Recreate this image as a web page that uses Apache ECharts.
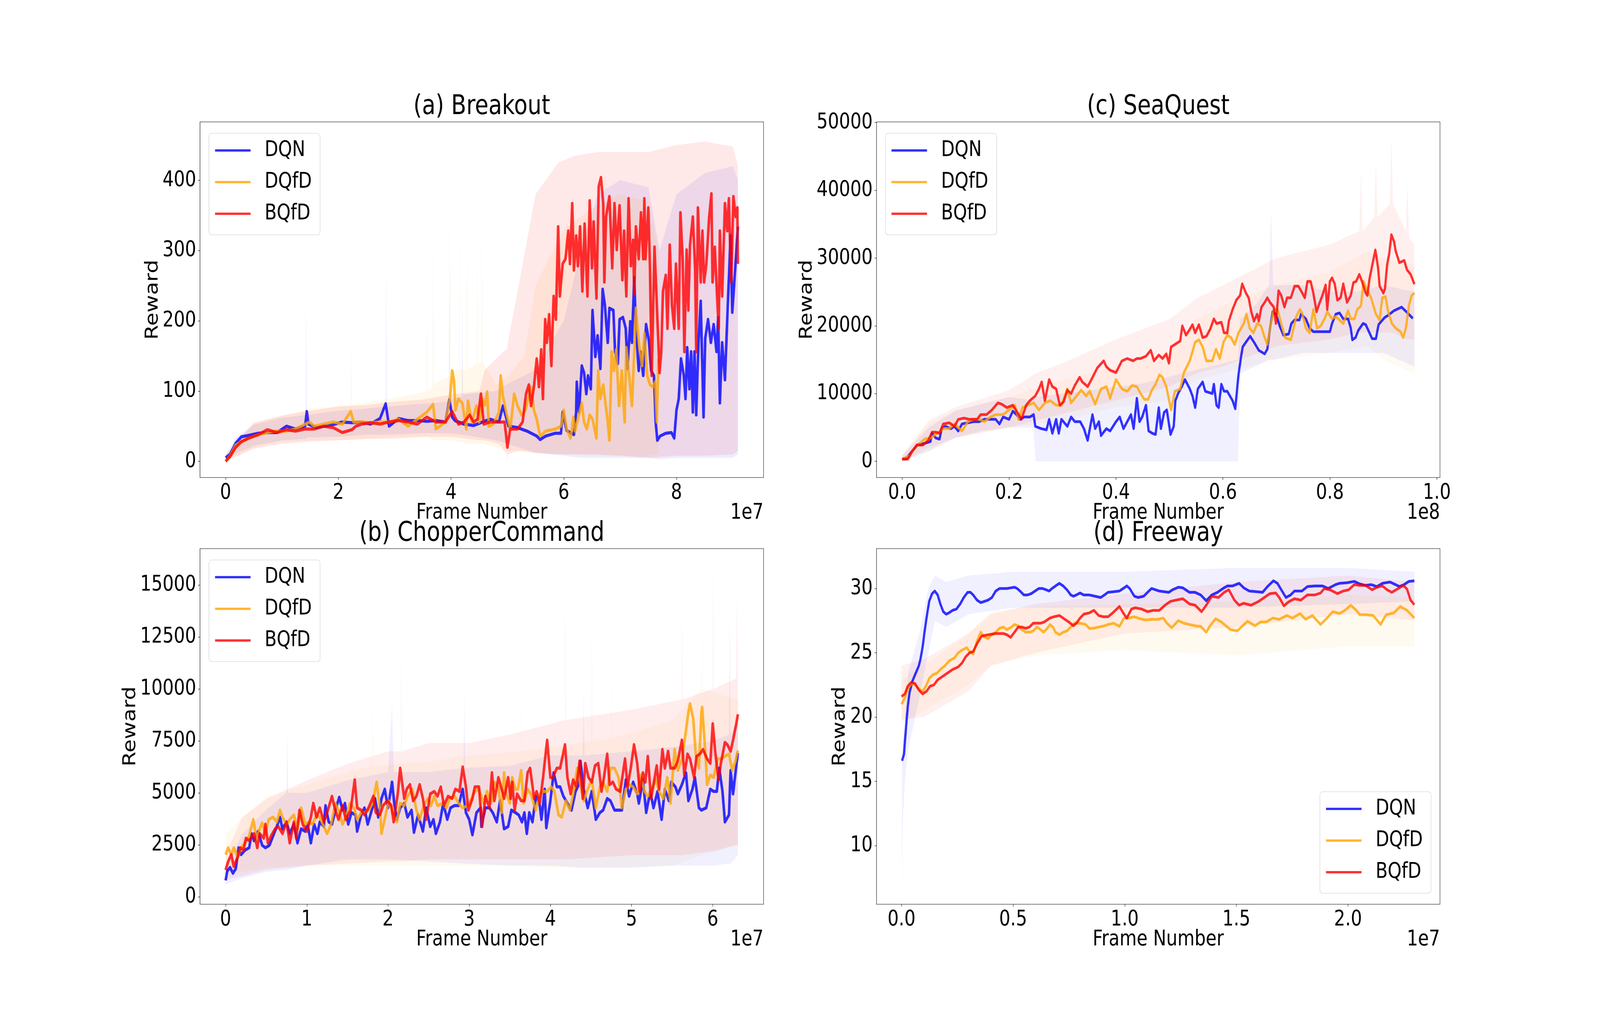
<!DOCTYPE html>
<html>
<head>
<meta charset="utf-8">
<script src="https://cdn.jsdelivr.net/npm/echarts@6.0.0/dist/echarts.min.js"></script>
<style>
  html, body { margin: 0; padding: 0; background: #fff; overflow: hidden; }
  #chart { width: 5000px; height: 2600px; transform-origin: 0 0; }
</style>
</head>
<body>
<div id="chart"></div>
<script>
// ---------- tick labels ----------
const brkXTicks = [0, 2, 4, 6, 8];
const brkYTicks = [0, 100, 200, 300, 400];
const chXTicks = [0, 1, 2, 3, 4, 5, 6];
const chYTicks = [0, 2500, 5000, 7500, 10000, 12500, 15000];
const sqXTicks = [0, 0.2, 0.4, 0.6, 0.8, 1.0];
const sqYTicks = [0, 10000, 20000, 30000, 40000, 50000];
const fwXTicks = [0, 0.5, 1.0, 1.5, 2.0];
const fwYTicks = [10, 15, 20, 25, 30];

// ---------- (a) Breakout, x in 1e7 frames ----------
const brkDqn = [[0,5],[0.08,10],[0.18,26],[0.28,35],[0.41,37],[0.58,40],[0.74,41],[0.91,41],[1.08,50],[1.24,46],[1.41,50],[1.44,71],[1.47,53],[1.6,48],[1.74,50],[1.94,53],[2.07,56],[2.24,55],[2.4,56],[2.57,53],[2.74,61],[2.84,82],[2.9,50],[3.07,61],[3.24,58],[3.4,58],[3.57,57],[3.73,58],[3.9,56],[3.97,88],[4.02,63],[4.07,58],[4.23,53],[4.4,51],[4.56,56],[4.69,60],[4.85,56],[4.92,79],[5.02,50],[5.18,48],[5.35,43],[5.52,36],[5.58,31],[5.68,36],[5.85,40],[5.95,40],[5.98,70],[6.05,44],[6.18,38],[6.22,70],[6.23,113],[6.27,70],[6.32,136],[6.36,126],[6.4,96],[6.43,122],[6.48,103],[6.51,215],[6.53,189],[6.56,149],[6.6,179],[6.65,132],[6.69,245],[6.73,222],[6.78,169],[6.81,218],[6.88,215],[6.91,156],[6.96,139],[6.99,202],[7.05,205],[7.1,189],[7.13,132],[7.18,199],[7.21,169],[7.25,262],[7.28,189],[7.33,129],[7.36,156],[7.41,122],[7.46,195],[7.51,172],[7.55,129],[7.6,122],[7.63,56],[7.66,30],[7.71,36],[7.81,40],[7.91,41],[7.96,33],[8.0,73],[8.04,89],[8.08,146],[8.13,122],[8.16,89],[8.19,162],[8.23,103],[8.26,156],[8.29,70],[8.32,156],[8.35,66],[8.39,169],[8.43,228],[8.48,63],[8.51,175],[8.56,202],[8.61,169],[8.66,195],[8.71,156],[8.74,205],[8.77,83],[8.81,169],[8.86,116],[8.91,222],[8.96,321],[8.99,212],[9.04,272],[9.09,334]];
const brkDqfd = [[0,0],[0.08,8],[0.18,23],[0.28,28],[0.41,33],[0.58,38],[0.74,41],[0.91,43],[1.08,43],[1.24,46],[1.41,53],[1.49,56],[1.57,50],[1.74,53],[1.91,56],[2.07,53],[2.22,71],[2.27,56],[2.41,56],[2.57,55],[2.74,56],[2.9,56],[3.07,60],[3.24,50],[3.4,60],[3.57,70],[3.68,81],[3.73,46],[3.9,56],[3.98,89],[4.02,129],[4.05,116],[4.08,73],[4.13,89],[4.2,83],[4.27,46],[4.3,86],[4.37,56],[4.45,79],[4.5,56],[4.56,89],[4.6,80],[4.64,99],[4.67,50],[4.75,53],[4.85,70],[4.88,122],[4.92,93],[4.99,66],[5.05,46],[5.12,96],[5.18,79],[5.25,66],[5.32,73],[5.42,106],[5.47,73],[5.52,60],[5.58,36],[5.68,43],[5.85,46],[5.95,50],[6.0,73],[6.05,46],[6.12,33],[6.17,63],[6.2,43],[6.25,60],[6.32,83],[6.36,56],[6.41,46],[6.46,66],[6.51,60],[6.58,33],[6.61,129],[6.65,89],[6.7,109],[6.74,83],[6.78,56],[6.81,30],[6.85,156],[6.89,129],[6.93,159],[6.98,79],[7.03,129],[7.08,56],[7.11,162],[7.16,122],[7.21,79],[7.25,156],[7.28,218],[7.31,189],[7.35,156],[7.39,136],[7.43,182],[7.48,122],[7.53,109],[7.58,106],[7.62,113],[7.65,56],[7.68,146]];
const brkBqfd = [[0,0],[0.08,7],[0.18,20],[0.28,28],[0.41,33],[0.58,38],[0.74,45],[0.91,41],[1.08,45],[1.24,43],[1.41,46],[1.57,46],[1.74,50],[1.91,48],[2.07,41],[2.24,45],[2.31,50],[2.41,53],[2.57,55],[2.74,53],[2.9,56],[3.07,58],[3.24,56],[3.4,53],[3.57,63],[3.73,56],[3.9,56],[4.02,71],[4.13,53],[4.23,56],[4.33,66],[4.4,56],[4.47,60],[4.53,96],[4.58,53],[4.69,56],[4.85,56],[4.95,56],[5.0,20],[5.05,46],[5.18,46],[5.27,56],[5.33,96],[5.38,109],[5.42,79],[5.47,106],[5.52,146],[5.56,106],[5.6,159],[5.63,89],[5.67,202],[5.7,169],[5.74,209],[5.78,136],[5.82,235],[5.86,202],[5.9,334],[5.93,235],[5.98,281],[6.03,288],[6.08,328],[6.11,281],[6.15,367],[6.18,272],[6.22,321],[6.25,278],[6.29,334],[6.33,242],[6.37,338],[6.42,235],[6.46,371],[6.5,275],[6.53,341],[6.58,232],[6.62,391],[6.66,404],[6.7,367],[6.72,255],[6.75,348],[6.81,377],[6.86,275],[6.9,367],[6.94,301],[6.99,364],[7.04,258],[7.07,328],[7.11,235],[7.15,374],[7.19,278],[7.23,315],[7.25,238],[7.28,334],[7.33,288],[7.37,354],[7.41,288],[7.43,374],[7.45,288],[7.5,361],[7.53,275],[7.56,122],[7.61,305],[7.66,205],[7.7,126],[7.73,156],[7.76,242],[7.81,265],[7.84,189],[7.88,308],[7.92,222],[7.96,189],[7.99,281],[8.04,189],[8.07,354],[8.11,288],[8.14,156],[8.18,301],[8.21,215],[8.24,308],[8.29,348],[8.33,275],[8.35,156],[8.38,361],[8.43,255],[8.46,328],[8.49,255],[8.53,281],[8.58,348],[8.62,381],[8.64,255],[8.68,305],[8.72,235],[8.75,189],[8.77,328],[8.81,235],[8.86,367],[8.9,328],[8.93,374],[8.97,255],[9.01,377],[9.05,348],[9.08,361],[9.09,281]];
// raw-reward spread: [x, low, high]
const brkDqnBand = [[0,0,10],[0.2,12,35],[0.5,22,52],[1.0,30,62],[1.42,32,66],[1.43,32,225],[1.44,34,66],[2.0,35,72],[2.5,38,75],[2.84,38,78],[2.85,38,288],[2.86,38,78],[3.5,40,82],[3.96,40,85],[3.97,40,280],[3.98,40,88],[4.19,38,92],[4.2,38,240],[4.21,38,95],[4.8,30,100],[5.0,25,110],[5.5,12,130],[6.0,8,200],[6.3,5,300],[6.6,5,380],[7.0,5,400],[7.5,5,390],[7.7,3,300],[8.0,5,380],[8.5,5,410],[9.0,5,420],[9.09,10,400]];
const brkDqfdBand = [[0,0,10],[0.5,20,55],[1.0,28,65],[1.5,30,75],[2.22,30,80],[2.23,30,180],[2.24,30,80],[3.0,35,90],[3.56,35,100],[3.57,35,218],[3.58,35,100],[3.67,30,105],[3.68,30,316],[3.69,30,110],[3.97,30,120],[3.98,30,384],[3.99,30,130],[4.14,28,130],[4.15,28,354],[4.16,28,130],[4.27,25,130],[4.28,25,331],[4.29,25,130],[4.46,25,140],[4.47,25,341],[4.48,25,140],[4.54,25,140],[4.55,25,348],[4.56,25,140],[4.8,20,110],[5.0,15,120],[5.3,15,150],[5.5,12,250],[6.0,10,330],[6.5,8,360],[7.0,8,380],[7.5,8,370],[7.68,10,300]];
const brkBqfdBand = [[0,0,8],[0.5,18,55],[1.0,25,65],[1.5,28,72],[2.0,30,78],[2.5,32,80],[3.0,32,85],[3.5,35,88],[4.0,35,95],[4.5,30,100],[4.6,30,130],[4.85,25,150],[4.99,10,160],[5.0,0,160],[5.01,10,170],[5.2,15,250],[5.5,12,380],[5.9,10,425],[6.2,10,435],[6.6,10,440],[7.0,8,440],[7.5,5,440],[8.0,8,450],[8.5,8,455],[9.0,10,448],[9.09,15,420]];

// ---------- (b) ChopperCommand, x in 1e7 frames ----------
const chDqn = [[0,790],[0.02,1240],[0.055,1410],[0.09,1130],[0.125,1350],[0.16,2360],[0.19,2030],[0.24,2250],[0.29,2360],[0.32,3040],[0.35,2700],[0.4,3150],[0.45,2480],[0.49,2360],[0.54,2480],[0.585,2930],[0.63,3380],[0.67,3830],[0.7,3270],[0.75,3600],[0.79,3040],[0.84,3490],[0.885,2590],[0.93,3270],[0.98,3150],[1.01,3490],[1.05,2590],[1.09,3490],[1.13,3040],[1.16,3600],[1.21,3380],[1.23,4390],[1.27,3600],[1.31,3490],[1.36,4280],[1.4,4790],[1.44,4170],[1.47,4500],[1.51,3490],[1.55,4050],[1.6,3940],[1.62,3150],[1.67,3940],[1.71,4280],[1.75,3490],[1.8,4170],[1.84,4730],[1.88,3830],[1.92,4730],[1.96,5180],[2.0,4280],[2.05,5520],[2.08,4390],[2.11,3720],[2.15,4280],[2.2,4500],[2.24,3830],[2.29,4170],[2.32,3100],[2.37,3940],[2.43,3150],[2.47,4280],[2.52,3380],[2.56,3720],[2.59,3040],[2.64,3600],[2.68,4500],[2.73,3720],[2.77,4280],[2.82,4390],[2.87,4390],[2.92,5180],[2.96,4050],[3.0,3720],[3.04,2980],[3.09,4050],[3.14,4280],[3.15,3380],[3.2,4280],[3.25,4280],[3.29,4050],[3.34,3600],[3.38,4620],[3.43,3270],[3.48,3380],[3.52,4170],[3.57,4050],[3.61,3940],[3.65,3600],[3.68,4050],[3.71,3040],[3.74,4050],[3.78,3600],[3.82,4840],[3.87,4390],[3.89,3720],[3.93,5180],[3.95,3320],[4.0,4620],[4.04,5970],[4.08,5290],[4.12,5290],[4.16,4840],[4.21,4500],[4.26,4170],[4.31,5070],[4.35,5400],[4.37,6530],[4.41,5180],[4.46,4280],[4.51,5070],[4.56,3720],[4.61,4050],[4.65,4170],[4.7,4730],[4.74,4620],[4.79,4170],[4.84,4170],[4.88,4170],[4.93,5630],[4.97,4840],[5.02,5520],[5.07,4950],[5.09,4500],[5.14,5630],[5.18,4050],[5.23,5070],[5.27,4280],[5.32,5070],[5.37,3720],[5.41,5180],[5.46,4620],[5.49,5520],[5.54,5290],[5.57,4950],[5.62,5400],[5.67,5970],[5.7,4620],[5.75,5180],[5.78,5740],[5.83,4280],[5.86,4170],[5.92,4280],[5.97,5180],[6.01,5070],[6.05,5070],[6.08,6190],[6.12,5070],[6.15,3600],[6.2,3940],[6.22,6080],[6.25,4950],[6.28,5970],[6.31,6920]];
const chDqfd = [[0,2030],[0.03,2360],[0.07,2030],[0.1,2360],[0.15,1910],[0.19,2360],[0.24,2590],[0.29,2930],[0.34,3720],[0.38,2820],[0.42,3270],[0.45,3550],[0.49,3040],[0.53,3720],[0.585,3830],[0.63,3600],[0.67,4170],[0.7,3830],[0.75,3490],[0.79,3720],[0.84,3940],[0.885,3270],[0.93,4280],[0.98,3490],[1.02,3600],[1.07,3490],[1.12,3940],[1.16,3830],[1.21,3380],[1.25,3040],[1.3,3490],[1.35,4500],[1.39,4170],[1.44,3490],[1.48,3830],[1.53,4500],[1.58,4280],[1.62,3720],[1.67,4050],[1.71,4050],[1.76,4170],[1.81,4500],[1.86,5520],[1.9,4280],[1.92,3040],[1.97,3940],[2.01,4620],[2.06,4050],[2.11,3600],[2.15,4500],[2.2,4390],[2.24,4840],[2.3,5180],[2.35,4170],[2.39,3720],[2.44,4390],[2.49,4730],[2.53,4390],[2.57,4840],[2.61,4390],[2.67,4500],[2.72,4280],[2.76,4730],[2.82,4840],[2.87,4500],[2.92,4280],[2.98,4390],[3.03,4730],[3.07,5070],[3.12,5180],[3.18,4500],[3.22,5070],[3.27,4500],[3.31,5520],[3.36,5290],[3.4,4050],[3.43,5970],[3.46,4950],[3.5,4500],[3.53,5740],[3.57,5180],[3.6,5180],[3.64,6080],[3.67,4500],[3.72,5180],[3.76,4950],[3.82,4170],[3.87,4950],[3.91,5070],[3.96,5070],[4.01,5290],[4.05,5070],[4.1,3940],[4.14,3830],[4.19,4620],[4.24,4170],[4.28,4950],[4.33,6190],[4.37,5400],[4.41,4620],[4.46,5180],[4.51,5630],[4.56,4280],[4.61,5290],[4.65,5520],[4.7,5070],[4.74,6190],[4.79,6190],[4.84,5740],[4.88,4280],[4.93,5180],[4.97,5400],[5.02,5290],[5.07,4950],[5.11,5860],[5.16,5070],[5.2,4840],[5.25,5180],[5.3,5630],[5.34,5070],[5.39,4730],[5.44,5740],[5.48,4500],[5.53,7090],[5.57,6080],[5.62,6640],[5.67,7990],[5.7,8900],[5.72,9290],[5.76,8560],[5.79,6870],[5.83,6190],[5.86,8900],[5.87,9120],[5.91,6870],[5.93,5400],[5.97,5860],[6.01,5740],[6.06,6640],[6.1,6640],[6.15,6760],[6.2,6870],[6.24,6080],[6.28,6530],[6.31,7040]];
const chBqfd = [[0,1290],[0.03,1690],[0.07,2030],[0.1,1460],[0.15,1910],[0.18,2360],[0.22,2250],[0.25,2820],[0.29,2700],[0.33,2930],[0.35,3040],[0.39,2360],[0.42,3040],[0.47,2820],[0.49,3490],[0.52,2590],[0.56,2930],[0.61,3270],[0.65,3380],[0.7,3040],[0.75,3600],[0.79,2590],[0.84,3600],[0.87,2820],[0.91,4170],[0.95,3490],[1.0,3150],[1.05,3830],[1.08,4500],[1.12,3830],[1.16,4280],[1.21,3600],[1.25,4050],[1.31,4840],[1.35,4170],[1.39,3720],[1.44,4390],[1.48,3720],[1.54,4170],[1.59,5630],[1.62,4280],[1.67,4170],[1.71,3940],[1.76,4280],[1.82,4840],[1.85,4050],[1.9,3940],[1.94,4390],[1.99,4620],[2.04,4390],[2.07,3600],[2.12,4950],[2.15,6190],[2.2,4730],[2.23,5180],[2.27,5400],[2.31,4620],[2.35,4840],[2.39,5400],[2.43,4730],[2.47,3720],[2.52,4950],[2.57,5070],[2.61,4840],[2.65,5290],[2.69,4390],[2.74,4840],[2.79,4730],[2.83,5180],[2.88,5070],[2.92,6250],[2.96,5290],[2.99,4170],[3.04,4730],[3.07,5290],[3.12,5290],[3.16,3380],[3.2,4840],[3.25,4280],[3.28,5970],[3.31,4620],[3.36,5740],[3.4,5180],[3.43,4730],[3.48,5740],[3.51,4730],[3.53,5520],[3.56,4170],[3.59,4950],[3.64,4620],[3.68,4620],[3.72,5970],[3.75,6190],[3.8,4730],[3.83,5070],[3.87,4500],[3.91,5740],[3.96,7540],[4.0,5740],[4.03,5740],[4.08,6190],[4.12,6190],[4.18,7320],[4.21,5740],[4.25,4950],[4.28,5630],[4.32,5290],[4.36,6530],[4.4,4730],[4.43,6420],[4.47,5740],[4.51,5520],[4.55,6310],[4.59,6420],[4.63,5070],[4.66,5740],[4.7,6870],[4.73,5400],[4.77,5520],[4.81,5180],[4.86,5070],[4.92,6640],[4.95,5290],[4.99,6190],[5.03,7320],[5.07,6420],[5.1,5070],[5.14,5970],[5.17,5520],[5.2,6760],[5.24,4730],[5.27,5400],[5.31,6310],[5.34,5180],[5.38,7090],[5.41,6190],[5.45,7000],[5.48,6190],[5.53,6190],[5.57,6530],[5.62,7540],[5.65,5860],[5.69,6870],[5.72,6640],[5.77,5740],[5.8,6760],[5.84,6870],[5.88,7090],[5.93,6640],[5.97,6420],[6.0,8330],[6.03,7000],[6.07,5630],[6.1,6420],[6.15,7430],[6.18,7320],[6.22,7000],[6.25,7540],[6.29,8330],[6.31,8780]];
const chDqnBand = [[0,600,1400],[0.2,900,3000],[0.5,1200,4200],[0.75,1300,5000],[0.76,1300,7940],[0.77,1300,5000],[1.0,1500,5000],[1.5,1800,5600],[2.0,1800,6000],[2.05,1800,9290],[2.07,1800,6000],[2.5,1700,6000],[2.93,1600,6200],[2.94,1600,9800],[2.95,1600,6200],[3.5,1500,6300],[4.0,1500,6800],[4.4,1400,6800],[4.41,1400,10000],[4.42,1400,6800],[5.0,1400,7000],[5.5,1500,7200],[6.0,1500,7500],[6.2,1600,7800],[6.21,1600,13500],[6.22,1600,7800],[6.31,2000,8500]];
const chDqfdBand = [[0,1200,3000],[0.2,1200,3800],[0.5,1400,4800],[1.0,1500,5400],[1.5,1500,6000],[1.8,1500,6300],[1.81,1500,9350],[1.82,1500,6300],[2.5,1500,6500],[3.0,1500,6800],[3.64,1500,7000],[3.645,1500,11540],[3.65,1500,7000],[4.0,1400,7200],[4.5,1400,7500],[4.51,1400,13620],[4.52,1400,7500],[4.74,1400,7600],[4.745,1400,12550],[4.75,1400,7600],[5.5,1500,8500],[5.86,2000,10000],[5.865,2000,14130],[5.87,2000,10000],[6.31,2500,9500]];
const chBqfdBand = [[0,800,2000],[0.2,1000,3800],[0.5,1300,4700],[1.0,1500,5600],[1.5,1600,6400],[2.0,1700,7000],[2.16,1700,7000],[2.165,1700,12180],[2.17,1700,7000],[2.5,1800,7400],[3.0,1800,7400],[3.5,1800,7800],[4.18,1800,8500],[4.185,1800,14800],[4.19,1800,8500],[5.0,2000,9000],[5.62,2000,9500],[5.625,2000,14130],[5.63,2000,9500],[6.0,2200,10000],[6.005,2200,15970],[6.01,2200,10000],[6.29,2500,10500],[6.295,2500,14400],[6.31,2500,10500]];

// ---------- (c) SeaQuest, x in 1e8 frames ----------
const sqDqn = [[0,345],[0.007,345],[0.014,1035],[0.021,1725],[0.028,2415],[0.039,2590],[0.046,2760],[0.053,2930],[0.056,4140],[0.063,3450],[0.07,3280],[0.074,4830],[0.081,5170],[0.091,4830],[0.098,5170],[0.105,4480],[0.112,5520],[0.123,5690],[0.133,5860],[0.144,5860],[0.154,6200],[0.165,6200],[0.175,6200],[0.182,5520],[0.189,6550],[0.2,6200],[0.207,7410],[0.214,6900],[0.221,6200],[0.228,6550],[0.239,6550],[0.246,6900],[0.249,5170],[0.26,4830],[0.27,4650],[0.275,6200],[0.281,4140],[0.288,6200],[0.293,4140],[0.298,6200],[0.309,5170],[0.316,6550],[0.323,5860],[0.333,5860],[0.34,4830],[0.347,3100],[0.356,6900],[0.361,4830],[0.368,5860],[0.372,3800],[0.382,4830],[0.389,4480],[0.4,5860],[0.407,6550],[0.414,4830],[0.421,5860],[0.428,6900],[0.433,4830],[0.439,9300],[0.444,5860],[0.449,6550],[0.456,8280],[0.461,4480],[0.468,4140],[0.474,3970],[0.48,7930],[0.484,4830],[0.49,7240],[0.495,7590],[0.502,3970],[0.508,5170],[0.511,8960],[0.516,10000],[0.523,11030],[0.529,12070],[0.538,10690],[0.543,9650],[0.548,7930],[0.553,10690],[0.562,11720],[0.567,10340],[0.58,10000],[0.583,11380],[0.588,8280],[0.592,7930],[0.597,11380],[0.602,10340],[0.608,10340],[0.618,8960],[0.623,7760],[0.629,12760],[0.634,15520],[0.637,16900],[0.646,17930],[0.651,18450],[0.658,17590],[0.667,16380],[0.678,15860],[0.683,16550],[0.688,19650],[0.693,22070],[0.699,21720],[0.706,20000],[0.713,18620],[0.723,18790],[0.728,20340],[0.734,20860],[0.743,20860],[0.746,21720],[0.755,21030],[0.762,19650],[0.769,19140],[0.783,19140],[0.8,19140],[0.804,20340],[0.811,21720],[0.818,21900],[0.825,21030],[0.834,21030],[0.839,19650],[0.842,17930],[0.848,18270],[0.853,19310],[0.862,20340],[0.867,20170],[0.874,18960],[0.879,18100],[0.886,18100],[0.891,20170],[0.902,21200],[0.909,21550],[0.92,22240],[0.934,22760],[0.943,22070],[0.955,21100]];
const sqDqfd = [[0,300],[0.014,860],[0.021,1725],[0.032,2590],[0.042,3280],[0.053,3450],[0.063,3970],[0.077,4830],[0.088,4830],[0.098,5520],[0.112,4480],[0.123,5860],[0.133,6200],[0.144,6200],[0.154,5860],[0.165,6550],[0.175,6900],[0.189,6900],[0.2,7590],[0.211,8280],[0.218,6200],[0.225,7930],[0.235,8280],[0.246,8620],[0.256,7590],[0.267,8620],[0.277,8960],[0.288,8280],[0.298,8280],[0.309,10690],[0.316,8620],[0.326,9650],[0.335,10520],[0.344,9650],[0.351,10340],[0.361,8450],[0.372,10690],[0.382,11030],[0.389,9310],[0.4,12070],[0.411,10690],[0.421,10340],[0.43,11200],[0.439,11030],[0.446,10000],[0.453,9140],[0.46,9140],[0.467,10500],[0.474,11380],[0.481,12760],[0.487,12400],[0.494,11030],[0.503,7590],[0.51,10340],[0.52,10690],[0.527,13100],[0.538,14830],[0.548,17590],[0.555,17930],[0.562,16900],[0.569,14830],[0.58,14830],[0.587,16550],[0.594,15170],[0.601,17590],[0.608,18620],[0.615,18270],[0.622,17240],[0.629,18960],[0.639,20340],[0.644,21720],[0.65,19650],[0.657,18960],[0.664,20340],[0.671,20000],[0.678,18270],[0.683,17240],[0.688,19650],[0.695,22410],[0.702,22410],[0.709,20340],[0.716,18270],[0.727,17930],[0.737,21380],[0.744,22410],[0.748,21900],[0.755,19650],[0.762,18960],[0.769,22410],[0.776,19650],[0.783,20000],[0.79,21030],[0.795,22070],[0.804,21030],[0.811,21380],[0.818,20860],[0.825,20340],[0.834,22240],[0.839,21030],[0.846,21030],[0.851,22410],[0.858,22930],[0.863,26550],[0.87,25170],[0.877,24140],[0.886,21720],[0.893,20860],[0.898,24140],[0.904,24310],[0.909,22070],[0.916,20340],[0.923,19650],[0.932,19140],[0.937,18270],[0.942,19650],[0.948,23100],[0.953,24480],[0.958,24830]];
const sqBqfd = [[0,345],[0.011,345],[0.018,1380],[0.028,2415],[0.039,2415],[0.049,3100],[0.056,4310],[0.063,4310],[0.07,4140],[0.077,5520],[0.088,5690],[0.098,5170],[0.105,6200],[0.116,6380],[0.126,6200],[0.14,6200],[0.147,6900],[0.158,6900],[0.168,7590],[0.179,8620],[0.186,8450],[0.196,7930],[0.207,8280],[0.218,6900],[0.223,6200],[0.232,8280],[0.239,8960],[0.249,9650],[0.256,10690],[0.261,11720],[0.267,8960],[0.275,12070],[0.281,11030],[0.288,10690],[0.295,8280],[0.302,8790],[0.309,10520],[0.316,10000],[0.323,11200],[0.332,12410],[0.337,11720],[0.347,11030],[0.354,12070],[0.365,13790],[0.377,14830],[0.382,13960],[0.389,13450],[0.4,13100],[0.411,14830],[0.421,15170],[0.432,14830],[0.439,15170],[0.446,15170],[0.456,15520],[0.465,16380],[0.471,14830],[0.48,15690],[0.487,15170],[0.494,15860],[0.499,14480],[0.503,16900],[0.51,17240],[0.52,17760],[0.524,20000],[0.531,18620],[0.538,19480],[0.543,20170],[0.548,18960],[0.555,20170],[0.562,18270],[0.569,18450],[0.576,19480],[0.583,21030],[0.588,20340],[0.597,20520],[0.602,18960],[0.608,18960],[0.611,20690],[0.618,22410],[0.625,23790],[0.632,24480],[0.636,26200],[0.643,24830],[0.648,24140],[0.653,22070],[0.658,20690],[0.664,21720],[0.667,20690],[0.672,22760],[0.678,23450],[0.683,24140],[0.688,23450],[0.695,22760],[0.699,20340],[0.704,25170],[0.709,24480],[0.715,22760],[0.72,24140],[0.727,24140],[0.734,25860],[0.741,25860],[0.746,25170],[0.753,24140],[0.758,26550],[0.764,26550],[0.769,24830],[0.775,22070],[0.781,23450],[0.786,24480],[0.792,26030],[0.795,22410],[0.8,26550],[0.804,27070],[0.809,26200],[0.814,23790],[0.82,24140],[0.825,26200],[0.832,23450],[0.839,24480],[0.844,26380],[0.849,26550],[0.855,27590],[0.86,26550],[0.867,24830],[0.87,24480],[0.874,26900],[0.881,29650],[0.885,31200],[0.89,28620],[0.893,25860],[0.9,24830],[0.903,25500],[0.907,29000],[0.911,30690],[0.915,33450],[0.92,32410],[0.923,31030],[0.93,29310],[0.939,29650],[0.944,28280],[0.951,27590],[0.958,26140]];
const sqDqnBand = [[0,0,800],[0.05,1500,5000],[0.1,3500,7500],[0.15,4500,8500],[0.2,5000,9500],[0.245,5000,9000],[0.25,0,9500],[0.35,0,10500],[0.45,0,11500],[0.5,0,12500],[0.55,0,13500],[0.628,0,15000],[0.632,13000,21000],[0.66,14000,23000],[0.686,15000,26000],[0.69,15000,36700],[0.694,15000,26000],[0.75,16000,26000],[0.8,16000,25000],[0.85,16000,25000],[0.9,16000,26000],[0.958,14000,25000]];
const sqDqfdBand = [[0,0,800],[0.05,1500,5500],[0.1,3500,7500],[0.2,5000,9500],[0.3,6000,12000],[0.4,8000,14000],[0.5,9000,16000],[0.55,12000,21000],[0.6,13000,23000],[0.7,15000,26000],[0.8,16000,28000],[0.87,17000,31000],[0.9,15000,30000],[0.958,13000,29000]];
const sqBqfdBand = [[0,0,1000],[0.05,2000,6000],[0.1,3500,8000],[0.2,5000,10500],[0.25,6000,13000],[0.3,7000,14500],[0.4,9000,18000],[0.5,11000,21000],[0.55,13000,24000],[0.6,14000,26000],[0.7,17000,30000],[0.8,18000,32000],[0.855,19000,34000],[0.858,19000,42750],[0.861,19000,34000],[0.883,19000,36000],[0.886,19000,44300],[0.889,19000,36000],[0.912,19000,38000],[0.915,19000,47600],[0.918,19000,38000],[0.942,18000,34000],[0.945,18000,41000],[0.948,18000,33000],[0.958,18000,32000]];

// ---------- (d) Freeway, x in 1e7 frames ----------
const fwDqn = [[0.0025,16.6],[0.011,17.1],[0.019,18.9],[0.028,20.8],[0.036,21.9],[0.049,22.8],[0.061,23.3],[0.078,24.0],[0.086,24.6],[0.095,25.5],[0.103,26.6],[0.112,27.7],[0.124,29.0],[0.137,29.6],[0.149,29.8],[0.162,29.5],[0.174,28.8],[0.187,28.2],[0.2,28.0],[0.212,28.1],[0.229,28.3],[0.246,28.4],[0.263,28.8],[0.279,29.3],[0.296,29.7],[0.309,29.7],[0.321,29.5],[0.338,29.1],[0.355,28.9],[0.372,29.0],[0.388,29.1],[0.405,29.3],[0.422,29.8],[0.439,30.0],[0.456,30.0],[0.472,30.0],[0.489,30.05],[0.506,30.1],[0.518,30.0],[0.531,29.8],[0.548,29.5],[0.565,29.5],[0.581,29.6],[0.598,29.8],[0.615,30.0],[0.632,30.0],[0.648,29.9],[0.661,29.8],[0.674,30.0],[0.69,30.2],[0.707,30.4],[0.724,30.2],[0.741,29.9],[0.758,29.5],[0.77,29.4],[0.783,29.5],[0.8,29.65],[0.816,29.5],[0.841,29.5],[0.867,29.4],[0.892,29.3],[0.909,29.5],[0.925,29.7],[0.95,29.75],[0.976,29.8],[0.997,30.05],[1.009,30.2],[1.022,30.0],[1.043,29.4],[1.06,29.3],[1.085,29.4],[1.102,29.7],[1.12,30.0],[1.155,29.8],[1.197,29.7],[1.214,29.9],[1.24,30.1],[1.26,30.05],[1.29,29.7],[1.315,29.7],[1.34,29.5],[1.365,29.05],[1.39,29.5],[1.415,29.7],[1.44,30.0],[1.46,30.2],[1.483,30.2],[1.512,30.4],[1.533,30.05],[1.558,29.8],[1.592,29.75],[1.617,29.7],[1.642,30.2],[1.666,30.6],[1.684,30.4],[1.701,29.9],[1.722,29.3],[1.743,29.5],[1.76,29.8],[1.793,29.8],[1.818,30.15],[1.852,30.2],[1.886,30.2],[1.911,30.0],[1.944,30.3],[1.961,30.4],[1.995,30.45],[2.028,30.55],[2.053,30.35],[2.079,30.24],[2.104,30.3],[2.129,30.15],[2.154,30.4],[2.188,30.5],[2.213,30.3],[2.23,30.15],[2.251,30.3],[2.272,30.55],[2.297,30.6]];
const fwDqfd = [[0,21.0],[0.015,21.5],[0.028,22.2],[0.044,22.6],[0.061,22.5],[0.078,22.2],[0.095,22.0],[0.112,22.5],[0.124,23.0],[0.141,23.3],[0.158,23.4],[0.174,23.7],[0.195,24.0],[0.216,24.4],[0.237,24.6],[0.254,25.0],[0.271,25.2],[0.292,25.4],[0.305,25.1],[0.321,24.9],[0.338,25.9],[0.355,26.6],[0.372,26.2],[0.388,26.1],[0.405,26.4],[0.422,26.6],[0.439,26.9],[0.456,27.0],[0.472,26.8],[0.493,27.0],[0.506,27.2],[0.523,27.1],[0.539,26.8],[0.556,26.6],[0.573,26.6],[0.59,26.7],[0.607,27.0],[0.623,26.8],[0.636,26.6],[0.653,26.9],[0.665,27.2],[0.678,27.0],[0.69,26.6],[0.707,26.4],[0.724,26.6],[0.741,26.7],[0.758,27.0],[0.774,27.3],[0.8,27.3],[0.825,27.2],[0.841,26.9],[0.858,26.9],[0.883,27.0],[0.909,27.1],[0.925,27.2],[0.95,27.3],[0.976,27.05],[0.997,27.7],[1.018,27.7],[1.043,27.8],[1.068,27.65],[1.094,27.55],[1.12,27.6],[1.147,27.6],[1.172,27.7],[1.189,27.3],[1.21,26.95],[1.24,27.5],[1.264,27.3],[1.29,27.2],[1.315,27.1],[1.34,27.05],[1.365,26.6],[1.382,27.1],[1.407,27.65],[1.432,27.4],[1.453,27.1],[1.474,26.8],[1.504,26.7],[1.525,27.05],[1.55,27.45],[1.583,27.1],[1.609,27.4],[1.634,27.4],[1.663,27.7],[1.692,27.6],[1.726,27.9],[1.751,27.7],[1.785,28.05],[1.81,27.6],[1.84,27.9],[1.877,27.2],[1.906,27.7],[1.932,28.2],[1.961,28.05],[1.986,28.3],[2.012,28.7],[2.037,28.3],[2.053,27.96],[2.079,27.96],[2.112,27.9],[2.146,27.2],[2.171,27.96],[2.205,28.1],[2.234,28.6],[2.264,28.3],[2.297,27.7]];
const fwBqfd = [[0,21.6],[0.015,21.8],[0.028,22.4],[0.044,22.7],[0.061,22.6],[0.078,22.1],[0.095,21.8],[0.112,22.0],[0.128,22.4],[0.145,22.5],[0.162,22.9],[0.179,23.1],[0.204,23.4],[0.229,23.7],[0.254,23.9],[0.271,24.2],[0.288,24.7],[0.305,25.0],[0.321,25.1],[0.338,25.7],[0.359,26.3],[0.388,26.4],[0.422,26.5],[0.456,26.5],[0.472,26.4],[0.489,26.2],[0.506,26.6],[0.523,27.0],[0.539,27.0],[0.556,26.9],[0.573,27.0],[0.59,27.3],[0.607,27.3],[0.623,27.3],[0.64,27.4],[0.665,27.7],[0.682,27.8],[0.707,27.9],[0.732,27.6],[0.749,27.4],[0.77,27.1],[0.783,27.3],[0.8,27.7],[0.816,28.0],[0.841,28.1],[0.862,28.3],[0.883,27.9],[0.904,27.8],[0.925,27.8],[0.946,28.1],[0.976,28.6],[0.993,28.1],[1.009,27.7],[1.03,28.4],[1.047,28.5],[1.076,28.4],[1.102,28.2],[1.127,28.3],[1.155,28.3],[1.18,28.7],[1.205,29.0],[1.23,29.1],[1.26,29.2],[1.29,28.8],[1.315,28.7],[1.344,28.2],[1.365,28.7],[1.39,29.4],[1.42,29.3],[1.445,29.7],[1.466,29.9],[1.491,29.1],[1.512,28.7],[1.533,28.85],[1.566,28.7],[1.6,29.0],[1.625,29.3],[1.65,29.6],[1.676,29.65],[1.692,29.3],[1.713,28.65],[1.734,28.96],[1.76,29.2],[1.789,29.1],[1.818,29.5],[1.852,29.5],[1.877,29.65],[1.894,30.0],[1.919,29.9],[1.953,29.6],[1.978,29.8],[2.003,29.9],[2.028,30.3],[2.053,30.24],[2.079,30.24],[2.108,29.9],[2.129,30.1],[2.154,30.2],[2.175,29.9],[2.196,29.7],[2.221,29.96],[2.247,30.24],[2.264,29.96],[2.28,29.1],[2.297,28.74]];
const fwDqnBand = [[0.0025,6.7,17],[0.006,12,18],[0.015,15,20],[0.03,17.5,23.5],[0.08,21.5,26.5],[0.12,25,30],[0.15,27.5,31],[0.2,27,30.5],[0.3,28,31],[0.5,28.5,31.3],[1.0,28.5,31.3],[1.5,28.5,31.6],[2.0,28.8,31.6],[2.297,29,31.3]];
const fwDqfdBand = [[0,19.5,23],[0.1,20.5,24],[0.3,22.5,26.5],[0.4,24,28.2],[0.6,24.8,28.6],[1.0,25.2,28.8],[1.5,24.8,29],[2.0,25.5,29.5],[2.297,25.5,29.3]];
const fwBqfdBand = [[0,19.8,24],[0.1,20,24.5],[0.3,22,26.5],[0.4,24,28],[0.6,25,28.8],[1.0,26.5,29.6],[1.5,27,30.5],[2.0,28,31],[2.297,27.5,30.5]];

const names = ['DQN', 'DQfD', 'BQfD'];

// ---------- chart ----------
const FONT = 'DejaVu Sans';
const BLUE = 'rgba(0,0,255,0.8)';
const ORANGE = 'rgba(255,165,0,0.8)';
const RED = 'rgba(255,0,0,0.8)';
const W = 1761, H = 910;

// panel order: a, b, c, d
const panels = [
  { left: 625,  top: 312,  title: '(a) Breakout',       off: '1e7', xr: [-0.4545, 9.5445], yr: [-23, 483],     xt: brkXTicks, yt: brkYTicks, dec: 0, lw: 8,
    bo: [0.07, 0.08, 0.09], lines: [brkDqn, brkDqfd, brkBqfd], bands: [brkDqnBand, brkDqfdBand, brkBqfdBand], rewardX: 478 },
  { left: 625,  top: 1404, title: '(b) ChopperCommand', off: '1e7', xr: [-0.3155, 6.6255], yr: [-357, 16750],  xt: chXTicks,  yt: chYTicks,  dec: 0, lw: 8,
    bo: [0.06, 0.06, 0.07], lines: [chDqn, chDqfd, chBqfd], bands: [chDqnBand, chDqfdBand, chBqfdBand], rewardX: 408 },
  { left: 2739, top: 312,  title: '(c) SeaQuest',       off: '1e8', xr: [-0.0479, 1.0059], yr: [-2385, 50085], xt: sqXTicks,  yt: sqYTicks,  dec: 1, lw: 7,
    bo: [0.06, 0.05, 0.06], lines: [sqDqn, sqDqfd, sqBqfd], bands: [sqDqnBand, sqDqfdBand, sqBqfdBand], rewardX: 2522 },
  { left: 2739, top: 1404, title: '(d) Freeway',        off: '1e7', xr: [-0.112, 2.412],   yr: [5.44, 33.1],   xt: fwXTicks,  yt: fwYTicks,  dec: 1, lw: 7,
    bo: [0.06, 0.06, 0.06], lines: [fwDqn, fwDqfd, fwBqfd], bands: [fwDqnBand, fwDqfdBand, fwBqfdBand], rewardX: 2625 }
];
const colors = [BLUE, ORANGE, RED];
const bandColors = ['rgb(0,0,255)', 'rgb(255,165,0)', 'rgb(255,0,0)'];

const grid = [], xAxis = [], yAxis = [], series = [], graphic = [], legend = [];

panels.forEach(function (p, i) {
  grid.push({ left: p.left, top: p.top, width: W, height: H, show: true,
    borderColor: '#000', borderWidth: 1.2, backgroundColor: 'transparent' });
  xAxis.push({
    type: 'value', gridIndex: i, min: p.xr[0], max: p.xr[1],
    axisLine: { show: false, onZero: false },
    axisTick: { show: true, length: 6, customValues: p.xt, lineStyle: { color: '#000', width: 1.2 } },
    axisLabel: { show: true, customValues: p.xt, margin: 12, color: '#000', fontFamily: FONT, fontSize: 55,
      formatter: function (v) { return p.dec ? Number(v).toFixed(p.dec) : String(Math.round(v)); } },
    splitLine: { show: false }
  });
  yAxis.push({
    type: 'value', gridIndex: i, min: p.yr[0], max: p.yr[1],
    axisLine: { show: false, onZero: false },
    axisTick: { show: true, length: 6, customValues: p.yt, lineStyle: { color: '#000', width: 1.2 } },
    axisLabel: { show: true, customValues: p.yt, margin: 12, color: '#000', fontFamily: FONT, fontSize: 55,
      formatter: function (v) { return String(Math.round(v)); } },
    splitLine: { show: false }
  });

  // faint raw-reward spread drawn as one polygon per method
  p.bands.forEach(function (band, k) {
    series.push({
      type: 'custom', name: names[k] + ' raw ' + i, xAxisIndex: i, yAxisIndex: i,
      silent: true, z: 1, clip: true, animation: false,
      data: band,
      renderItem: function (params, api) {
        if (params.dataIndexInside !== 0) return null;
        const pts = band.map(function (d) { return api.coord([d[0], d[2]]); });
        for (let j = band.length - 1; j >= 0; j--) pts.push(api.coord([band[j][0], band[j][1]]));
        return { type: 'polygon', shape: { points: pts },
          style: { fill: bandColors[k], opacity: p.bo[k] } };
      }
    });
  });

  p.lines.forEach(function (data, k) {
    series.push({
      type: 'line', name: names[k], xAxisIndex: i, yAxisIndex: i, data: data,
      showSymbol: false, symbol: 'none', clip: true, z: 3 + k, animation: false,
      lineStyle: { color: colors[k], width: p.lw, join: 'round' },
      itemStyle: { color: colors[k] },
      emphasis: { disabled: true }
    });
  });

  const cx = p.left + W / 2;
  graphic.push({ type: 'text', x: cx, y: p.top - 38, z: 10,
    style: { text: p.title, font: '69px "DejaVu Sans"', fill: '#000', textAlign: 'center', textVerticalAlign: 'middle', align: 'center', verticalAlign: 'middle' } });
  graphic.push({ type: 'text', x: cx, y: p.top + H + 91, z: 10,
    style: { text: 'Frame Number', font: '55px "DejaVu Sans"', fill: '#000', textAlign: 'center', textVerticalAlign: 'middle', align: 'center', verticalAlign: 'middle' } });
  graphic.push({ type: 'text', x: p.left + W, y: p.top + H + 91, z: 10,
    style: { text: p.off, font: '55px "DejaVu Sans"', fill: '#000', textAlign: 'right', textVerticalAlign: 'middle', align: 'right', verticalAlign: 'middle' } });
  graphic.push({ type: 'text', x: p.rewardX, y: p.top + H / 2, rotation: Math.PI / 2, z: 10,
    style: { text: 'Reward', font: '55px "DejaVu Sans"', fill: '#000', textAlign: 'center', textVerticalAlign: 'middle', align: 'center', verticalAlign: 'middle' } });
});

const legendBase = {
  orient: 'vertical', icon: 'rect', itemWidth: 111, itemHeight: 6, itemGap: 17,
  selectedMode: false, z: 20,
  padding: [12, 26, 22, 19],
  backgroundColor: 'rgba(255,255,255,0.8)', borderColor: '#cccccc', borderWidth: 1.2, borderRadius: 9,
  textStyle: { fontFamily: FONT, fontSize: 55, color: '#000', lineHeight: 64, padding: [0, 0, 0, 39] },
  data: names.map(function (n, k) { return { name: n, itemStyle: { color: colors[k] } }; })
};
legend.push(Object.assign({}, legendBase, { left: 653, top: 341 }));
legend.push(Object.assign({}, legendBase, { left: 653, top: 1433 }));
legend.push(Object.assign({}, legendBase, { left: 2767, top: 341 }));
legend.push(Object.assign({}, legendBase, { right: 528, bottom: 314 }));

const dom = document.getElementById('chart');
// if the browser viewport is not the 5000x2600 design size, stretch the figure to fill it
const sx = window.innerWidth / 5000, sy = window.innerHeight / 2600;
if (window.innerWidth > 0 && window.innerHeight > 0 && (Math.abs(sx - 1) > 0.01 || Math.abs(sy - 1) > 0.01)) {
  dom.style.transform = 'scale(' + sx + ',' + sy + ')';
}

const chart = echarts.init(dom, null, { renderer: 'canvas', width: 5000, height: 2600 });
chart.setOption({
  backgroundColor: '#fff',
  animation: false,
  textStyle: { fontFamily: FONT },
  grid: grid, xAxis: xAxis, yAxis: yAxis,
  legend: legend,
  graphic: graphic,
  series: series
});
</script>
</body>
</html>
